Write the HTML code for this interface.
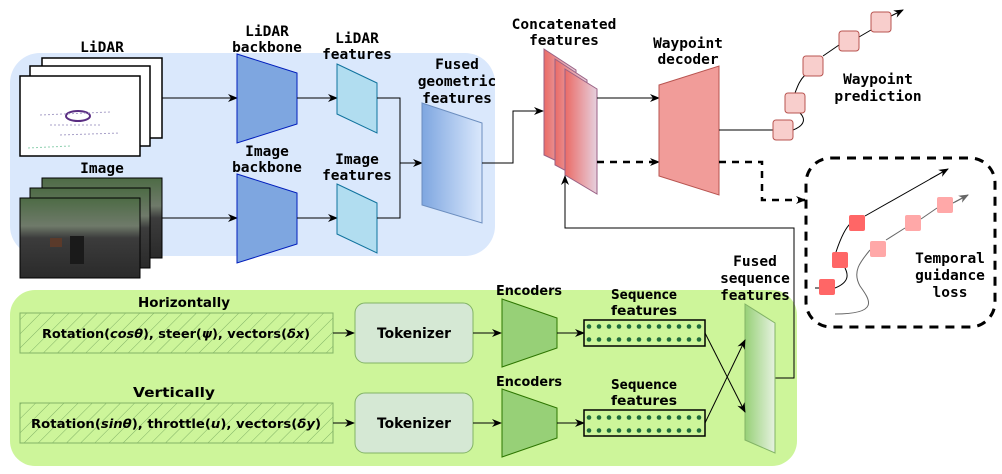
<!DOCTYPE html>
<html><head><meta charset="utf-8"><style>
html,body{margin:0;padding:0;background:#fff;}
svg{display:block;}
.t{font-family:"DejaVu Sans Mono","Liberation Mono",monospace;font-weight:bold;font-size:14.5px;fill:#000;text-anchor:middle;}
.n{font-family:"DejaVu Sans","Liberation Sans",sans-serif;font-weight:bold;fill:#000;text-anchor:middle;}
</style></head><body>
<svg width="1002" height="474" viewBox="0 0 1002 474" xmlns="http://www.w3.org/2000/svg">
<defs>
<marker id="a" markerWidth="10" markerHeight="10" refX="9" refY="5" orient="auto" markerUnits="userSpaceOnUse"><path d="M0,1 L10,5 L0,9 L3,5 Z" fill="#000"/></marker>
<marker id="ag" markerWidth="10" markerHeight="10" refX="9" refY="5" orient="auto" markerUnits="userSpaceOnUse"><path d="M0,1 L10,5 L0,9 L3,5 Z" fill="#666"/></marker>
<linearGradient id="gb" x1="0" x2="1"><stop offset="0" stop-color="#7ea6e0"/><stop offset="1" stop-color="#dae8fc"/></linearGradient>
<linearGradient id="gr" x1="0" x2="1"><stop offset="0" stop-color="#ea6b66"/><stop offset="1" stop-color="#e6d0de"/></linearGradient>
<linearGradient id="gg" x1="0" x2="1"><stop offset="0" stop-color="#97d077"/><stop offset="1" stop-color="#e6f2e0"/></linearGradient>
<linearGradient id="img" x1="0" y1="0" x2="0" y2="1"><stop offset="0" stop-color="#4d6b45"/><stop offset="0.35" stop-color="#6f7a6a"/><stop offset="0.5" stop-color="#3c3c3c"/><stop offset="1" stop-color="#2a2a2a"/></linearGradient>
<pattern id="hatch" width="10" height="10" patternUnits="userSpaceOnUse" patternTransform="rotate(45)"><rect width="10" height="10" fill="#cdf59a"/><line x1="0" y1="0" x2="0" y2="10" stroke="#82b366" stroke-width="1"/></pattern>
<pattern id="dots" width="10" height="13" patternUnits="userSpaceOnUse" x="584" y="320"><rect width="10" height="13" fill="#cdf59a"/><circle cx="5" cy="6.5" r="2.3" fill="#1e6b3a"/></pattern>
</defs>

<rect x="10" y="53" width="485" height="203" rx="30" fill="#dae8fc"/>
<rect x="10" y="290" width="787" height="176" rx="25" fill="#cdf59a"/>

<text class="t" x="102" y="52">LiDAR</text>
<rect x="42" y="58" width="120" height="80" fill="#fff" stroke="#000" stroke-width="1.5"/>
<rect x="30" y="66" width="120" height="80" fill="#fff" stroke="#000" stroke-width="1.5"/>
<rect x="20" y="76" width="120" height="80" fill="#fff" stroke="#000" stroke-width="1.5"/>
<ellipse cx="78" cy="116" rx="12" ry="5" fill="none" stroke="#5a2d82" stroke-width="2"/>
<path d="M40,115 L110,112 M50,125 L100,125 M60,135 L120,133" stroke="#a8a0c8" stroke-width="1" stroke-dasharray="2,2"/>
<path d="M28,148 L70,146" stroke="#8fd0b0" stroke-width="1" stroke-dasharray="2,2"/>

<text class="t" x="102" y="173">Image</text>
<rect x="42" y="178" width="120" height="80" fill="url(#img)" stroke="#000"/>
<rect x="30" y="188" width="120" height="80" fill="url(#img)" stroke="#000"/>
<rect x="20" y="198" width="120" height="80" fill="url(#img)" stroke="#000"/>
<rect x="70" y="236" width="14" height="28" fill="#1a1a1a"/>
<rect x="50" y="238" width="12" height="9" fill="#5a3a2a"/>

<line x1="162" y1="98" x2="237" y2="98" stroke="#000" marker-end="url(#a)"/>
<line x1="162" y1="218" x2="237" y2="218" stroke="#000" marker-end="url(#a)"/>

<text class="t" x="267" y="36">LiDAR</text><text class="t" x="267" y="52">backbone</text>
<polygon points="237,54 297,73 297,124 237,143" fill="#7ea6e0" stroke="#001dbc"/>
<text class="t" x="267" y="156">Image</text><text class="t" x="267" y="172">backbone</text>
<polygon points="237,174 297,193 297,244 237,263" fill="#7ea6e0" stroke="#001dbc"/>

<line x1="297" y1="98" x2="337" y2="98" stroke="#000" marker-end="url(#a)"/>
<line x1="297" y1="218" x2="337" y2="218" stroke="#000" marker-end="url(#a)"/>

<text class="t" x="357" y="43">LiDAR</text><text class="t" x="357" y="59">features</text>
<polygon points="337,64 377,83 377,133 337,114" fill="#b1ddf0" stroke="#10739e"/>
<text class="t" x="357" y="164">Image</text><text class="t" x="357" y="180">features</text>
<polygon points="337,184 377,203 377,253 337,234" fill="#b1ddf0" stroke="#10739e"/>

<polyline points="377,98 400,98 400,218 377,218" fill="none" stroke="#000"/>
<line x1="400" y1="163" x2="422" y2="163" stroke="#000" marker-end="url(#a)"/>

<text class="t" x="457" y="69">Fused</text><text class="t" x="457" y="86">geometric</text><text class="t" x="457" y="103">features</text>
<polygon points="422,103 482,123 482,223 422,205" fill="url(#gb)" stroke="#6c8ebf"/>

<polyline points="482,163 513,163 513,111 543,111" fill="none" stroke="#000" marker-end="url(#a)"/>

<text class="t" x="564" y="29">Concatenated</text><text class="t" x="564" y="45">features</text>
<polygon points="544,49 576,70 576,170 544,155" fill="url(#gr)" stroke="#996185"/>
<polygon points="555,59 587,80 587,182 555,165" fill="url(#gr)" stroke="#996185"/>
<polygon points="565,69 597,89 597,194 565,175" fill="url(#gr)" stroke="#996185"/>

<line x1="597" y1="98" x2="659" y2="98" stroke="#000" marker-end="url(#a)"/>
<line x1="597" y1="162" x2="659" y2="162" stroke="#000" stroke-width="2.5" stroke-dasharray="7,6" marker-end="url(#a)"/>

<text class="t" x="688" y="48">Waypoint</text><text class="t" x="688" y="64">decoder</text>
<polygon points="659,85 719,66 719,195 659,176" fill="#f19c99" stroke="#b85450"/>

<line x1="719" y1="130" x2="773" y2="130" stroke="#000"/>
<path d="M793,130 C806,125 805,118 800,113 M795,93 C798,85 800,80 805,75 M823,56 L839,45 M859,37 L871,30" fill="none" stroke="#000"/>
<line x1="891" y1="16" x2="903" y2="10" stroke="#000" marker-end="url(#a)"/>
<rect x="773" y="120" width="20" height="20" rx="3" fill="#f8cecc" stroke="#b85450"/>
<rect x="785" y="93" width="20" height="20" rx="3" fill="#f8cecc" stroke="#b85450"/>
<rect x="803" y="56" width="20" height="20" rx="3" fill="#f8cecc" stroke="#b85450"/>
<rect x="839" y="31" width="20" height="20" rx="3" fill="#f8cecc" stroke="#b85450"/>
<rect x="871" y="12" width="20" height="20" rx="3" fill="#f8cecc" stroke="#b85450"/>
<text class="t" x="878" y="84">Waypoint</text><text class="t" x="878" y="101">prediction</text>

<polyline points="719,162 762,162 762,200 805,200" fill="none" stroke="#000" stroke-width="2.5" stroke-dasharray="7,6" marker-end="url(#a)"/>
<rect x="806" y="158" width="189" height="169" rx="25" fill="none" stroke="#000" stroke-width="3" stroke-dasharray="9,7"/>
<path d="M815,288 L819,288 M835,288 C850,282 848,274 845,268 M836,252 C840,240 845,228 851,223 M865,216 L948,169" fill="none" stroke="#000"/>
<line x1="930" y1="179" x2="948" y2="169" stroke="#000" marker-end="url(#a)"/>
<path d="M835,314 C880,314 870,300 860,286 C852,272 860,262 870,250 M886,240 L905,228 M921,219 L937,208 M953,203 L968,195" fill="none" stroke="#666"/>
<line x1="955" y1="202" x2="968" y2="195" stroke="#666" marker-end="url(#ag)"/>
<rect x="819" y="279" width="16" height="16" rx="2" fill="#ff6666"/>
<rect x="832" y="252" width="16" height="16" rx="2" fill="#ff6666"/>
<rect x="849" y="215" width="16" height="16" rx="2" fill="#ff6666"/>
<rect x="870" y="241" width="16" height="16" rx="2" fill="#ff9999" opacity="0.85"/>
<rect x="905" y="215" width="16" height="16" rx="2" fill="#ff9999" opacity="0.85"/>
<rect x="937" y="197" width="16" height="16" rx="2" fill="#ff9999" opacity="0.85"/>
<text class="t" x="950" y="263">Temporal</text><text class="t" x="950" y="280">guidance</text><text class="t" x="950" y="297">loss</text>

<polyline points="775,378 794,378 794,228 565,228 565,176" fill="none" stroke="#000" marker-end="url(#a)"/>

<text class="n" x="184" y="307" font-size="13.5" textLength="92" lengthAdjust="spacingAndGlyphs">Horizontally</text>
<rect x="20" y="313" width="313" height="40" fill="url(#hatch)" stroke="#82b366"/>
<text class="n" x="176" y="338" font-size="12" textLength="268" lengthAdjust="spacingAndGlyphs">Rotation(<tspan font-style="italic">cosθ</tspan>), steer(<tspan font-style="italic">ψ</tspan>), vectors(<tspan font-style="italic">δx</tspan>)</text>
<line x1="333" y1="333" x2="354" y2="333" stroke="#000" marker-end="url(#a)"/>
<rect x="355" y="303" width="118" height="60" rx="10" fill="#d5e8d4" stroke="#82b366"/>
<text class="n" x="414" y="338" font-size="14" textLength="74" lengthAdjust="spacingAndGlyphs">Tokenizer</text>
<line x1="473" y1="333" x2="501" y2="333" stroke="#000" marker-end="url(#a)"/>
<text class="n" x="529" y="295" font-size="13" textLength="66" lengthAdjust="spacingAndGlyphs">Encoders</text>
<polygon points="502,299 557,318 557,348 502,367" fill="#97d077" stroke="#2d7600"/>
<line x1="557" y1="333" x2="584" y2="333" stroke="#000" marker-end="url(#a)"/>
<text class="n" x="644" y="299" font-size="13" textLength="66" lengthAdjust="spacingAndGlyphs">Sequence</text>
<text class="n" x="644" y="315" font-size="13" textLength="66" lengthAdjust="spacingAndGlyphs">features</text>
<rect x="584" y="320" width="121" height="26" fill="url(#dots)" stroke="#000" stroke-width="1.5"/>

<text class="n" x="174" y="397" font-size="13.5" textLength="82" lengthAdjust="spacingAndGlyphs">Vertically</text>
<rect x="20" y="403" width="313" height="40" fill="url(#hatch)" stroke="#82b366"/>
<text class="n" x="176" y="428" font-size="12" textLength="290" lengthAdjust="spacingAndGlyphs">Rotation(<tspan font-style="italic">sinθ</tspan>), throttle(<tspan font-style="italic">u</tspan>), vectors(<tspan font-style="italic">δy</tspan>)</text>
<line x1="333" y1="423" x2="354" y2="423" stroke="#000" marker-end="url(#a)"/>
<rect x="355" y="393" width="118" height="60" rx="10" fill="#d5e8d4" stroke="#82b366"/>
<text class="n" x="414" y="428" font-size="14" textLength="74" lengthAdjust="spacingAndGlyphs">Tokenizer</text>
<line x1="473" y1="423" x2="501" y2="423" stroke="#000" marker-end="url(#a)"/>
<text class="n" x="529" y="386" font-size="13" textLength="66" lengthAdjust="spacingAndGlyphs">Encoders</text>
<polygon points="502,389 557,408 557,438 502,457" fill="#97d077" stroke="#2d7600"/>
<line x1="557" y1="423" x2="584" y2="423" stroke="#000" marker-end="url(#a)"/>
<text class="n" x="644" y="389" font-size="13" textLength="66" lengthAdjust="spacingAndGlyphs">Sequence</text>
<text class="n" x="644" y="405" font-size="13" textLength="66" lengthAdjust="spacingAndGlyphs">features</text>
<rect x="584" y="410" width="121" height="26" fill="url(#dots)" stroke="#000" stroke-width="1.5"/>

<text class="t" x="755" y="266">Fused</text><text class="t" x="755" y="283">sequence</text><text class="t" x="755" y="300">features</text>
<polygon points="745,304 775,323 775,453 745,440" fill="url(#gg)" stroke="#82b366"/>
<line x1="705" y1="333" x2="745" y2="412" stroke="#000" marker-end="url(#a)"/>
<line x1="705" y1="423" x2="745" y2="340" stroke="#000" marker-end="url(#a)"/>
</svg>
</body></html>
